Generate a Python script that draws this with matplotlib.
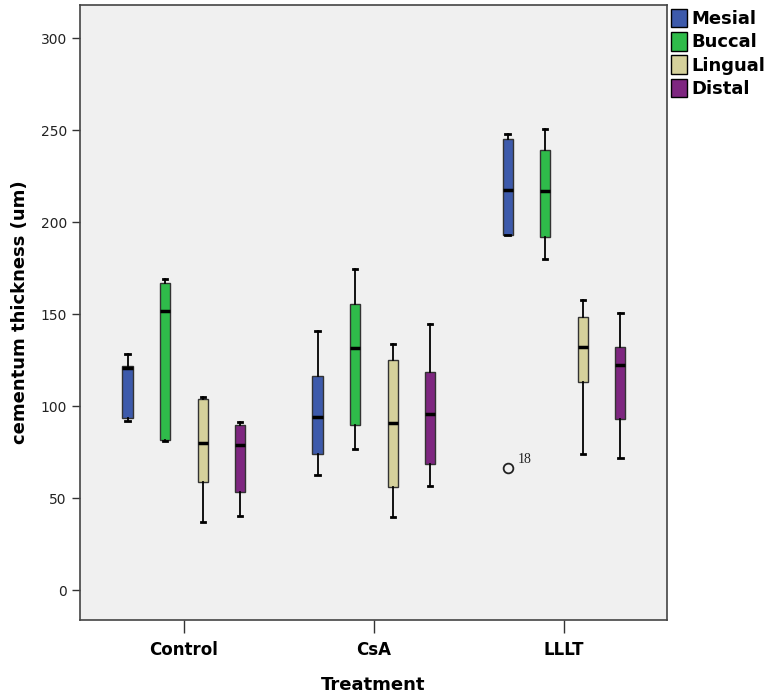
import matplotlib
matplotlib.use("Agg")
import matplotlib.pyplot as plt
from matplotlib.patches import Patch

# cementum thickness boxplots by treatment and tooth surface
treatments = ["Control", "CsA", "LLLT"]
surfaces = ["Mesial", "Buccal", "Lingual", "Distal"]
colors = ["#3d5aab", "#2fbb4a", "#d5d19b", "#7e2680"]

# per surface: values for Control, CsA, LLLT
whislo = {"Mesial": [92, 62.5, 193], "Buccal": [81, 76.6, 179.7],
          "Lingual": [37, 39.5, 73.7], "Distal": [40.2, 56.5, 71.6]}
q1 = {"Mesial": [93.6, 73.9, 193], "Buccal": [81.5, 89.7, 191.7],
      "Lingual": [58.5, 55.8, 113.2], "Distal": [53.4, 68.5, 92.8]}
med = {"Mesial": [120.5, 93.8, 217.4], "Buccal": [151.6, 131.5, 216.8],
       "Lingual": [79.7, 90.8, 131.9], "Distal": [78.6, 95.7, 122.5]}
q3 = {"Mesial": [121.7, 116.3, 245], "Buccal": [166.7, 155.4, 239],
      "Lingual": [104, 124.8, 148.6], "Distal": [89.5, 118.5, 131.9]}
whishi = {"Mesial": [128.5, 141, 248], "Buccal": [169, 174.5, 250.7],
          "Lingual": [104.7, 133.9, 157.6], "Distal": [91.5, 144.6, 150.7]}
# outliers: (treatment index, surface, value, case label)
outliers = [(2, "Mesial", 66.1, "18")]

fig = plt.figure(figsize=(7.67, 6.94), dpi=100)
ax = fig.add_axes([0.1043, 0.1066, 0.7653, 0.8862])
ax.set_facecolor("#f0f0f0")

offsets = [-0.297, -0.099, 0.099, 0.297]
for s, surf in enumerate(surfaces):
    stats = []
    for t in range(len(treatments)):
        fl = [v for (ti, su, v, lab) in outliers if ti == t and su == surf]
        stats.append(dict(whislo=whislo[surf][t], q1=q1[surf][t], med=med[surf][t],
                          q3=q3[surf][t], whishi=whishi[surf][t], fliers=fl))
    pos = [t + offsets[s] for t in range(len(treatments))]
    ax.bxp(stats, positions=pos, widths=0.053, capwidths=0.022, patch_artist=True,
           manage_ticks=False,
           boxprops=dict(facecolor=colors[s], edgecolor="#333333", linewidth=1.0),
           medianprops=dict(color="black", linewidth=2.5, solid_capstyle="butt"),
           whiskerprops=dict(color="black", linewidth=1.3),
           capprops=dict(color="black", linewidth=2.0),
           flierprops=dict(marker="o", markerfacecolor="none", markeredgecolor="#222222",
                           markersize=7, markeredgewidth=1.3))

for (t, surf, v, lab) in outliers:
    x = t + offsets[surfaces.index(surf)]
    ax.annotate(lab, (x, v), xytext=(7, 4), textcoords="offset points",
                fontsize=10, family="Liberation Serif", color="#222222")

ax.set_xlim(-0.547, 2.542)
ax.set_ylim(-16.3, 318)
ax.set_xticks(range(len(treatments)))
ax.set_xticklabels(treatments, fontsize=12, fontweight="bold")
ax.set_yticks([0, 50, 100, 150, 200, 250, 300])
ax.tick_params(axis="y", labelsize=10, length=6, width=1, color="#333333", labelcolor="#222222")
ax.tick_params(axis="x", length=9, width=1, color="#333333", pad=6)
for sp in ax.spines.values():
    sp.set_color("#444444")
    sp.set_linewidth(1.2)

ax.set_xlabel("Treatment", fontsize=13, fontweight="bold", labelpad=12)
ax.set_ylabel("cementum thickness (um)", fontsize=13, fontweight="bold", labelpad=8)

handles = [Patch(facecolor=c, edgecolor="black", label=s) for s, c in zip(surfaces, colors)]
leg = fig.legend(handles=handles, loc="upper left", bbox_to_anchor=(0.872, 0.99),
                 frameon=False, prop=dict(weight="bold", size=13),
                 handlelength=0.9, handleheight=1.2, handletextpad=0.25,
                 labelspacing=0.22, borderaxespad=0.0, borderpad=0.1)

fig.savefig("out.png", dpi=100)
plt.close(fig)
